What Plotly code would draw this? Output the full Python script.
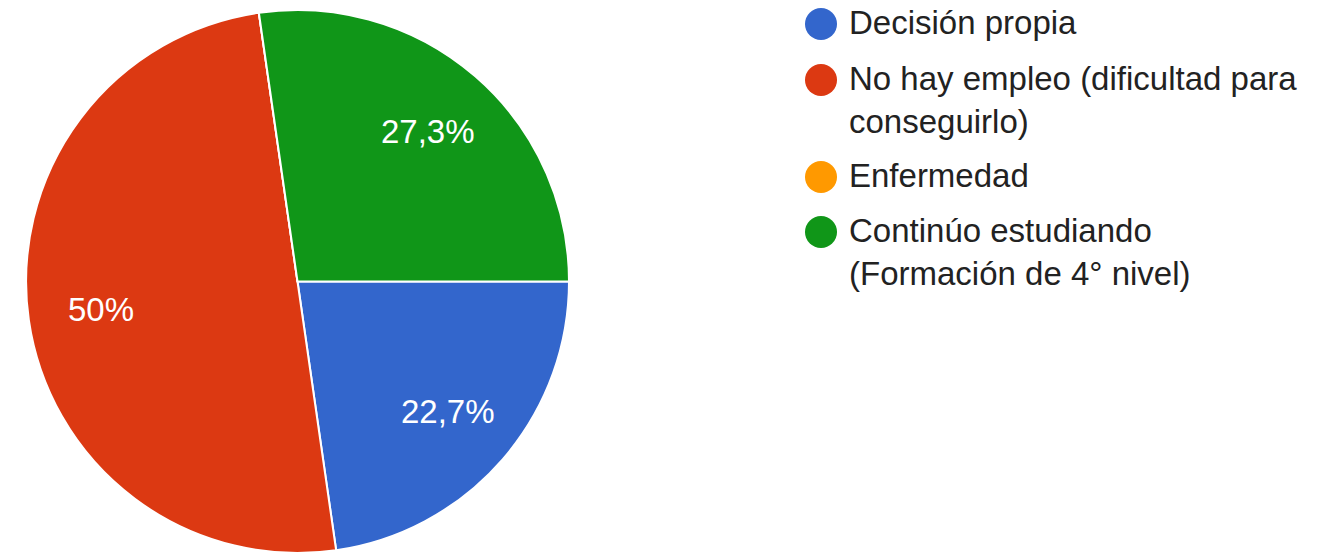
import math
import plotly.graph_objects as go

# respuestas por motivo (22 en total)
labels = [
    "Decisión propia",
    "No hay empleo (dificultad para conseguirlo)",
    "Enfermedad",
    "Continúo estudiando (Formación de 4° nivel)",
]
legend_text = [
    "Decisión propia",
    "No hay empleo (dificultad para<br>conseguirlo)",
    "Enfermedad",
    "Continúo estudiando<br>(Formación de 4° nivel)",
]
counts = [5, 11, 0, 6]
pct_text = ["22,7%", "50%", "", "27,3%"]
colors = ["#3366cc", "#dc3912", "#ff9900", "#109618"]

W, H = 1324, 556
FONT = "Liberation Sans, Arial, sans-serif"
ROT = 90

# pie box in page pixels
px0, px1, py0, py1 = 25, 570, 10, 553
cx, cy = (px0 + px1) / 2, (py0 + py1) / 2
rad = (py1 - py0) / 2 - 1

fig = go.Figure()
fig.add_trace(go.Pie(
    labels=labels,
    values=counts,
    textinfo="none",
    marker=dict(colors=colors, line=dict(color="white", width=2)),
    sort=False,
    direction="clockwise",
    rotation=ROT,
    showlegend=False,
    domain=dict(x=[px0 / W, px1 / W], y=[1 - py1 / H, 1 - py0 / H]),
))

annotations = []

# porcentajes dentro de cada sector, sobre la bisectriz
total = sum(counts)
cum = 0
for v, t in zip(counts, pct_text):
    mid = ROT + 360 * (cum + v / 2) / total
    cum += v
    if not t:
        continue
    a = math.radians(mid)
    x = cx + 0.735 * rad * math.sin(a)
    y = cy - 0.735 * rad * math.cos(a)
    annotations.append(dict(
        text=t, xref="paper", yref="paper",
        x=x / W, y=1 - y / H, xanchor="center", yanchor="middle",
        showarrow=False,
        font=dict(size=33, color="white", family=FONT),
    ))

# leyenda a mano: circulos + texto
item_y = [24, 80, 177, 232]
shapes = []
for lab, col, iy in zip(legend_text, colors, item_y):
    r = 16
    shapes.append(dict(
        type="circle", xref="paper", yref="paper",
        x0=(821 - r) / W, x1=(821 + r) / W,
        y0=1 - (iy + r) / H, y1=1 - (iy - r) / H,
        fillcolor=col, line=dict(width=0),
    ))
    annotations.append(dict(
        text=lab, xref="paper", yref="paper",
        x=847 / W, y=1 - (iy - 22) / H,
        xanchor="left", yanchor="top", align="left",
        showarrow=False,
        font=dict(size=33, color="#222222", family=FONT),
    ))

fig.update_layout(
    width=W, height=H,
    margin=dict(l=0, r=0, t=0, b=0),
    paper_bgcolor="white",
    plot_bgcolor="white",
    shapes=shapes,
    annotations=annotations,
    showlegend=False,
)

fig.write_html(
    "out.html",
    config={"displayModeBar": False},
    post_script="document.body.style.margin='0';",
)
